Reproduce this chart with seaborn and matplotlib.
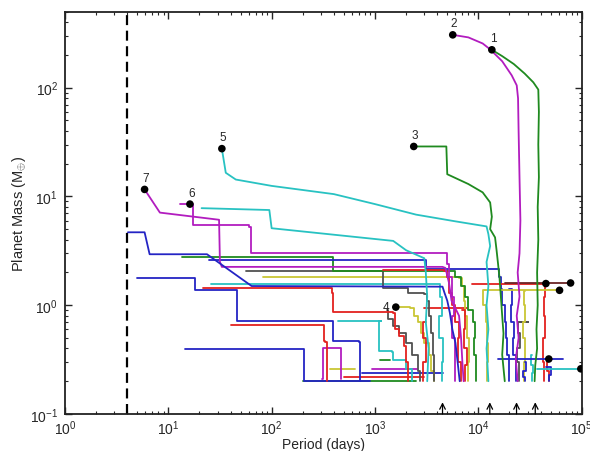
import matplotlib
matplotlib.use('Agg')

import pandas as pd
import matplotlib.pyplot as plt
import seaborn as sns

# ---- data (period in days, mass in Earth masses) ----
trk01 = [(13500, 223), (17000, 195), (22000, 165), (28000, 135), (34000, 112), (38000, 96), (38500, 60),
         (38000, 30), (38500, 15), (37500, 8), (38000, 4), (37000, 2), (37500, 1.0), (36500, 0.6),
         (37000, 0.4), (35500, 0.28), (35000, 0.2)]
trk02 = [(5650, 306), (8000, 290), (11000, 255), (13000, 225), (17000, 175), (21000, 130), (23500, 105),
         (24200, 80), (24500, 40), (25000, 15), (25500, 6), (25000, 3), (24000, 2), (25000, 1.2),
         (23500, 0.8), (24500, 0.5), (23000, 0.32), (24000, 0.2)]
trk03 = [(2370, 28.8), (4900, 28.8), (5000, 16), (8000, 13), (11000, 10.9), (13000, 8.8), (13500, 6.5),
         (13000, 5), (14500, 4.2), (15000, 3.2), (15500, 2.4), (16000, 1.8), (16500, 1.2), (17000, 0.8),
         (17500, 0.55), (17000, 0.35), (18000, 0.2)]
trk04 = [(1590, 0.96), (2200, 0.95), (2400, 0.8), (2600, 0.7), (2800, 0.55), (3000, 0.45), (3300, 0.35),
         (3500, 0.25), (3700, 0.2)]
trk05 = [(33, 27.5), (36, 16.5), (45, 14.3), (100, 12.5), (400, 10.5), (1000, 8.5), (2500, 6.8),
         (6000, 5.9), (12000, 5.3), (12500, 4.5), (13000, 3.5), (12000, 2.5), (12500, 1.5), (12000, 1.0),
         (12500, 0.6), (12000, 0.4), (12500, 0.2)]
trk06 = [(13, 8.5), (16.2, 8.5), (17.5, 5.5), (60, 5.2), (63, 3.0), (4900, 3.0), (5000, 2.4), (5200, 1.8),
         (5600, 1.2), (5800, 0.8), (5600, 0.5), (6000, 0.3), (5900, 0.2)]
trk07 = [(5.9, 11.6), (8.3, 7.1), (31, 6.1), (31.6, 2.5), (33, 2.25), (4500, 2.25), (4800, 2.2), (5200, 1.6),
         (5500, 1.1), (6500, 0.8), (6800, 0.5), (7000, 0.3), (7200, 0.2)]
blue_a = [(4.07, 4.68), (5.9, 4.68), (6.6, 2.94), (23.7, 2.94), (64, 1.5), (4500, 1.48), (4700, 1.3),
          (5000, 1.1), (5300, 0.85), (5600, 0.6), (6000, 0.45), (6300, 0.3), (6600, 0.2)]
blue_b = [(5, 1.77), (17.3, 1.77), (18, 1.37), (42, 1.37), (46, 0.71), (380, 0.71), (390, 0.47), (700, 0.46),
          (720, 0.2)]
blue_c = [(14.5, 0.395), (200, 0.395), (205, 0.2), (900, 0.2)]
blue_d = [(25, 2.6), (3000, 2.6), (3100, 2.15), (15500, 2.15), (16000, 1.8), (16500, 1.4), (17000, 1.0),
          (18000, 0.7), (18500, 0.5), (19000, 0.35), (20000, 0.2)]
blue_e = [(15500, 0.32), (66000, 0.32)]
blue_f = [(20000, 1.4), (21000, 1.0), (20500, 0.7), (22000, 0.5), (21500, 0.35), (23000, 0.2)]
blue_g = [(750, 0.24), (4500, 0.24)]
blue_h = [(28000, 0.3), (29000, 0.25), (27000, 0.22), (28500, 0.2)]
blue_i = [(45000, 0.27), (50000, 0.23), (48000, 0.2)]
red_a = [(21.7, 1.43), (365, 1.43), (380, 1.3), (390, 0.86), (1500, 0.85), (1550, 0.6), (1700, 0.52),
         (1900, 0.42), (2000, 0.3), (2100, 0.2)]
red_b = [(40, 0.655), (305, 0.655), (320, 0.47), (330, 0.46), (340, 0.2)]
red_c = [(1200, 2.1), (4700, 2.05), (5000, 1.8), (5200, 1.3), (5500, 1.0), (6000, 0.7), (6500, 0.5),
         (6300, 0.3), (6800, 0.2)]
red_d = [(8700, 1.55), (45000, 1.55), (44000, 1.2), (43000, 0.8), (44000, 0.5), (42000, 0.3), (43000, 0.2)]
red_e = [(7000, 0.9), (7500, 0.6), (7200, 0.4), (7800, 0.28), (7500, 0.2)]
red_f = [(3000, 0.95), (7700, 0.95)]
red_g = [(500, 0.22), (3000, 0.22)]
red_h = [(3100, 0.7), (2900, 0.5), (3100, 0.3), (2900, 0.2)]
red_i = [(47000, 0.3), (46000, 0.25), (48000, 0.2)]
green_a = [(13.5, 2.76), (385, 2.76), (390, 2.08), (5500, 2.05), (6000, 1.8), (6800, 1.5), (7500, 1.2),
           (8000, 0.9), (8800, 0.7), (9200, 0.5), (9000, 0.35), (9500, 0.2)]
green_b = [(200, 0.2), (2500, 0.2)]
green_c = [(1130, 0.31), (1400, 0.31)]
gray_a = [(56, 2.05), (1150, 2.05), (1200, 1.45), (2000, 1.45), (2100, 1.3), (3000, 1.28), (3200, 1.1),
          (3300, 0.8), (3500, 0.55), (3600, 0.35), (3700, 0.2)]
gray_b = [(1300, 0.9), (1350, 0.75), (1500, 0.65), (1700, 0.55), (2000, 0.45), (2300, 0.35), (2600, 0.25),
          (2700, 0.2)]
gray_c = [(25000, 0.7), (30000, 0.7), (24000, 0.55), (25000, 0.4), (23500, 0.3), (24500, 0.2)]
cyan_a = [(21, 7.8), (95, 7.5), (100, 5.1), (1500, 3.9), (2000, 3.2), (3000, 2.7), (3100, 2.0), (3200, 1.2),
          (3100, 0.7), (3300, 0.4), (3200, 0.2)]
cyan_b = [(26, 1.56), (4200, 1.55), (4300, 1.2), (4400, 0.8), (4200, 0.5), (4500, 0.3), (4400, 0.2)]
cyan_c = [(440, 0.71), (1150, 0.71), (1100, 0.38), (1450, 0.37), (1500, 0.31), (1900, 0.31), (2000, 0.26),
          (2200, 0.26), (2300, 0.2)]
cyan_d = [(37000, 0.26), (100000, 0.26)]
cyan_e = [(33000, 0.35), (32000, 0.28), (34000, 0.24), (33000, 0.2)]
yellow_a = [(82, 1.8), (6500, 1.78), (7000, 1.5), (7200, 1.1), (7500, 0.8), (7800, 0.5), (8200, 0.3), (8000, 0.2)]
yellow_b = [(11500, 1.37), (61000, 1.37)]
yellow_e = [(11500, 1.37), (11000, 1.0), (11800, 0.7), (12000, 0.45), (12500, 0.3), (12000, 0.2)]
yellow_c = [(28000, 1.35), (27500, 1.0), (28500, 0.7), (27000, 0.5), (28000, 0.3), (27500, 0.2)]
yellow_d = [(365, 0.26), (640, 0.26)]
magenta_a = [(310, 0.21), (312, 0.4), (460, 0.4), (470, 0.21)]
magenta_b = [(930, 0.26), (2540, 0.26)]
brown_a = [(18000, 1.6), (78000, 1.6)]

GREEN, MAGENTA, CYAN, BLUE = '#1f8a1f', '#b21cbf', '#28c2c2', '#2424c4'
RED, YELLOW, GRAY, BROWN = '#e3211f', '#c9c634', '#505050', '#6b2424'

# tracks with sloping parts are drawn as straight segments, the rest as staircases
smooth = {
    'trk07': (trk07, MAGENTA), 'blue_a': (blue_a, BLUE), 'cyan_a': (cyan_a, CYAN),
    'trk05': (trk05, CYAN), 'trk03': (trk03, GREEN), 'trk02': (trk02, MAGENTA), 'trk01': (trk01, GREEN),
}
stepped = {
    'green_b': (green_b, GREEN), 'blue_c': (blue_c, BLUE), 'red_g': (red_g, RED), 'yellow_d': (yellow_d, YELLOW),
    'magenta_b': (magenta_b, MAGENTA), 'blue_g': (blue_g, BLUE), 'green_c': (green_c, GREEN),
    'magenta_a': (magenta_a, MAGENTA), 'red_b': (red_b, RED), 'blue_b': (blue_b, BLUE),
    'cyan_c': (cyan_c, CYAN), 'gray_b': (gray_b, GRAY), 'red_a': (red_a, RED), 'trk04': (trk04, YELLOW),
    'red_f': (red_f, RED), 'red_h': (red_h, RED), 'cyan_b': (cyan_b, CYAN), 'yellow_a': (yellow_a, YELLOW),
    'gray_a': (gray_a, GRAY), 'green_a': (green_a, GREEN), 'blue_d': (blue_d, BLUE), 'red_c': (red_c, RED),
    'trk06': (trk06, MAGENTA), 'red_e': (red_e, RED), 'yellow_e': (yellow_e, YELLOW),
    'blue_f': (blue_f, BLUE), 'gray_c': (gray_c, GRAY), 'yellow_c': (yellow_c, YELLOW),
    'blue_h': (blue_h, BLUE), 'cyan_e': (cyan_e, CYAN), 'red_i': (red_i, RED), 'blue_i': (blue_i, BLUE),
    'red_d': (red_d, RED), 'yellow_b': (yellow_b, YELLOW), 'brown_a': (brown_a, BROWN),
    'blue_e': (blue_e, BLUE), 'cyan_d': (cyan_d, CYAN),
}

# labelled starting points
dot_period = [13500, 5650, 2370, 1590, 33, 16.2, 5.9]
dot_mass = [223, 306, 28.8, 0.96, 27.5, 8.5, 11.6]
dot_label = ['1', '2', '3', '4', '5', '6', '7']
# unlabelled starting points at large period
end_period = [45000, 78000, 61000, 48000, 98000]
end_mass = [1.58, 1.6, 1.37, 0.32, 0.26]
# arrows on the period axis
arrow_period = [4500, 12900, 23400, 35500]
inner_edge = 4.0


def to_frame(group):
    rows = []
    for name, (pts, _) in group.items():
        for i, (p, m) in enumerate(pts):
            rows.append({'track': name, 'order': i, 'period': p, 'mass': m})
    return pd.DataFrame(rows)


sns.set_style('ticks')
plt.rcParams['font.family'] = ['Liberation Sans', 'DejaVu Sans']
plt.rcParams['mathtext.fontset'] = 'custom'
plt.rcParams['mathtext.rm'] = 'Liberation Sans'

fig = plt.figure(figsize=(5.9, 4.52), dpi=100)
ax = fig.add_axes([0.110, 0.082, 0.876, 0.890])

sns.lineplot(data=to_frame(stepped), x='period', y='mass', hue='track', units='track', estimator=None,
             sort=False, palette={k: v[1] for k, v in stepped.items()}, hue_order=list(stepped.keys()),
             legend=False, linewidth=1.3, drawstyle='steps-post', ax=ax)
sns.lineplot(data=to_frame(smooth), x='period', y='mass', hue='track', units='track', estimator=None,
             sort=False, palette={k: v[1] for k, v in smooth.items()}, hue_order=list(smooth.keys()),
             legend=False, linewidth=1.3, ax=ax)

ax.axvline(inner_edge, color='black', lw=1.6, ls=(0, (4.5, 2.5)), zorder=1)

sns.scatterplot(x=dot_period + end_period, y=dot_mass + end_mass, color='black', s=30,
                edgecolor='none', zorder=5, ax=ax, legend=False)
for p, m, lab in zip(dot_period, dot_mass, dot_label):
    if lab == '4':
        ax.annotate(lab, (p, m), xytext=(-7, 0), textcoords='offset points', ha='center', va='center',
                    fontsize=8.5, zorder=6)
    else:
        ax.annotate(lab, (p, m), xytext=(1, 4), textcoords='offset points', ha='center', va='bottom',
                    fontsize=8.5, zorder=6)

for p in arrow_period:
    ax.annotate('', xy=(p, 0.128), xytext=(p, 0.1),
                arrowprops=dict(arrowstyle='->', color='black', lw=0.9, shrinkA=0, shrinkB=0))

ax.set_xscale('log')
ax.set_yscale('log')
ax.set_xlim(1, 1e5)
ax.set_ylim(0.1, 500)
ax.set_xlabel('Period (days)', fontsize=10, labelpad=0)
ax.set_ylabel(r'Planet Mass (M$_{\oplus}$)', fontsize=10.5, labelpad=1)
ax.tick_params(which='both', direction='in', top=True, right=True, labelsize=10)
ax.tick_params(which='major', length=5, width=1, pad=3)
ax.tick_params(axis='y', which='major', pad=5)
ax.tick_params(which='minor', length=2.5, width=0.8)
for s in ax.spines.values():
    s.set_linewidth(1.3)
    s.set_color('#222222')

fig.savefig('out.png', dpi=100)
plt.close(fig)
